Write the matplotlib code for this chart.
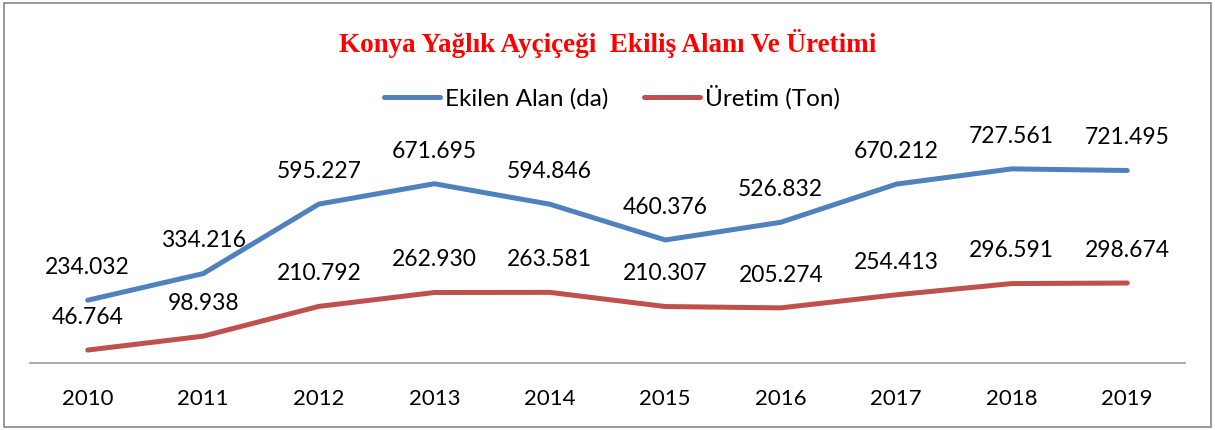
import matplotlib.pyplot as plt
from matplotlib.patches import Rectangle

# ── Data ──────────────────────────────────────────────────────────────────────
years = ["2010", "2011", "2012", "2013", "2014", "2015", "2016", "2017", "2018", "2019"]
ekilen_alan = [234.032, 334.216, 595.227, 671.695, 594.846, 460.376, 526.832, 670.212, 727.561, 721.495]
uretim = [46.764, 98.938, 210.792, 262.930, 263.581, 210.307, 205.274, 254.413, 296.591, 298.674]

BLUE = "#4F81BD"
RED = "#C0504D"
FONT = "Lato"

W, H = 1215, 430
fig = plt.figure(figsize=(W / 100, H / 100), dpi=100)

# axes placed in pixel terms of the reference
left, right = 30, 1185
bottom, top = 362.5, 149.6
ax = fig.add_axes([left / W, 1 - bottom / H, (right - left) / W, (bottom - top) / H])

x = list(range(len(years)))
ax.plot(x, ekilen_alan, color=BLUE, lw=3.6, solid_capstyle="round", label="Ekilen Alan (da)")
ax.plot(x, uretim, color=RED, lw=3.6, solid_capstyle="round", label="Üretim (Ton)")

for xi, v in zip(x, ekilen_alan):
    ax.annotate(f"{v:.3f}", (xi, v), xytext=(0, 23.5), textcoords="offset points",
                ha="center", va="center", fontsize=16.5, family=FONT, annotation_clip=False)
for xi, v in zip(x, uretim):
    ax.annotate(f"{v:.3f}", (xi, v), xytext=(0, 23.5), textcoords="offset points",
                ha="center", va="center", fontsize=16.5, family=FONT, annotation_clip=False)

ax.set_xlim(-0.5, len(years) - 0.5)
ax.set_ylim(0, 800)
ax.set_xticks(x)
ax.set_xticklabels(years, fontsize=16, family=FONT)
ax.tick_params(axis="x", length=0, pad=19)
ax.set_yticks([])
for s in ["top", "left", "right"]:
    ax.spines[s].set_visible(False)
ax.spines["bottom"].set_color("#999999")
ax.spines["bottom"].set_linewidth(1.2)

fig.text(0.5, 1 - 44 / H, "Konya Yağlık Ayçiçeği  Ekiliş Alanı Ve Üretimi",
         ha="center", va="center", color="#FF0000", fontsize=19.5,
         fontweight="bold", family="Liberation Serif")

leg = fig.legend(loc="center", bbox_to_anchor=(612 / W, 1 - 97 / H), ncol=2,
                 frameon=False, prop={"family": FONT, "size": 17.5},
                 handlelength=2.3, handletextpad=0.2, columnspacing=1.5)

fig.patches.append(Rectangle((4 / W, 3 / H), (W - 8) / W, (H - 6) / H,
                             transform=fig.transFigure, fill=False,
                             edgecolor="#888888", lw=1.2))

fig.savefig("out.png", dpi=100)
